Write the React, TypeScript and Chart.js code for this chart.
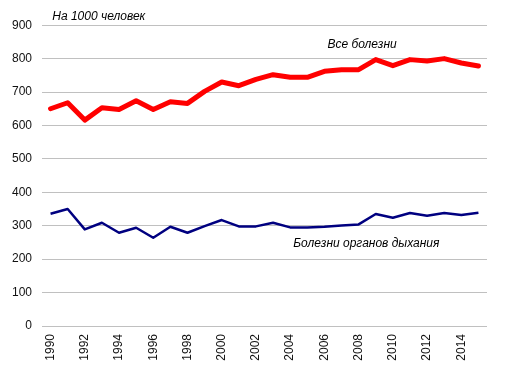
import React, { useEffect, useRef } from "react";
import { Chart, registerables } from "chart.js";

Chart.register(...registerables);

const years: string[] = [
  "1990", "1991", "1992", "1993", "1994", "1995", "1996", "1997", "1998", "1999",
  "2000", "2001", "2002", "2003", "2004", "2005", "2006", "2007", "2008", "2009",
  "2010", "2011", "2012", "2013", "2014", "2015",
];

const allDiseases: number[] = [
  650, 668, 616, 653, 648, 674, 648, 671, 666, 702,
  730, 719, 738, 752, 744, 744, 762, 767, 767, 797,
  779, 797, 793, 800, 787, 778,
];

const respiratory: number[] = [
  336, 350, 289, 309, 279, 294, 264, 297, 279, 299,
  317, 298, 298, 309, 295, 295, 297, 301, 304, 335,
  324, 338, 330, 338, 332, 339,
];

const yTicks: number[] = [0, 100, 200, 300, 400, 500, 600, 700, 800, 900];

const labelAll = "Все болезни";
const labelResp = "Болезни органов дыхания";
const unitLabel = "На 1000 человек";

// annotation anchors in data coordinates (category index, value)
const annotations = [
  { text: labelAll, x: 18.2, y: 843, align: "center" as CanvasTextAlign },
  { text: labelResp, x: 18.45, y: 246, align: "center" as CanvasTextAlign },
  { text: unitLabel, x: 0.1, y: 926, align: "left" as CanvasTextAlign },
];

const FONT = "'Liberation Sans', Arial, sans-serif";

const annotationPlugin = {
  id: "textAnnotations",
  afterDatasetsDraw(chart: any) {
    const { ctx, scales } = chart;
    ctx.save();
    ctx.font = `italic 12px ${FONT}`;
    ctx.fillStyle = "#000000";
    ctx.textBaseline = "middle";
    for (const a of annotations) {
      ctx.textAlign = a.align;
      ctx.fillText(a.text, scales.x.getPixelForValue(a.x), scales.y.getPixelForValue(a.y));
    }
    ctx.restore();
  },
};

export default function App() {
  const ref = useRef<HTMLCanvasElement | null>(null);
  useEffect(() => {
    if (!ref.current) return;
    const chart = new Chart(ref.current, {
      type: "line",
      data: {
        labels: years,
        datasets: [
          {
            label: labelAll,
            data: allDiseases,
            borderColor: "#ff0000",
            backgroundColor: "#ff0000",
            borderWidth: 5,
            pointRadius: 0,
            tension: 0,
            borderJoinStyle: "round",
            borderCapStyle: "round",
          },
          {
            label: labelResp,
            data: respiratory,
            borderColor: "#000080",
            backgroundColor: "#000080",
            borderWidth: 2.5,
            pointRadius: 0,
            tension: 0,
            borderJoinStyle: "round",
          },
        ],
      },
      options: {
        responsive: false,
        animation: false,
        layout: { padding: { top: 15, right: 18, left: 0, bottom: 0 } },
        plugins: {
          legend: { display: false },
          tooltip: { enabled: false },
          title: { display: false },
        },
        scales: {
          x: {
            offset: true,
            grid: { display: false },
            border: { display: false },
            afterFit: (s: any) => { s.height = 43; },
            ticks: {
              autoSkip: false,
              minRotation: 90,
              maxRotation: 90,
              padding: 0,
              color: "#111111",
              font: { family: FONT, size: 12 },
              callback: (_v: any, i: number) => (i % 2 === 0 ? years[i] : ""),
            },
          },
          y: {
            min: yTicks[0],
            max: yTicks[yTicks.length - 1],
            afterFit: (s: any) => { s.width = 34; },
            afterBuildTicks: (s: any) => { s.ticks = yTicks.map((v) => ({ value: v })); },
            grid: { color: "#c0c0c0", lineWidth: 1, drawTicks: false },
            border: { display: false },
            ticks: {
              padding: 10,
              color: "#111111",
              font: { family: FONT, size: 12 },
            },
          },
        },
      },
      plugins: [annotationPlugin],
    });
    return () => chart.destroy();
  }, []);
  return <canvas ref={ref} width={497} height={361} />;
}
